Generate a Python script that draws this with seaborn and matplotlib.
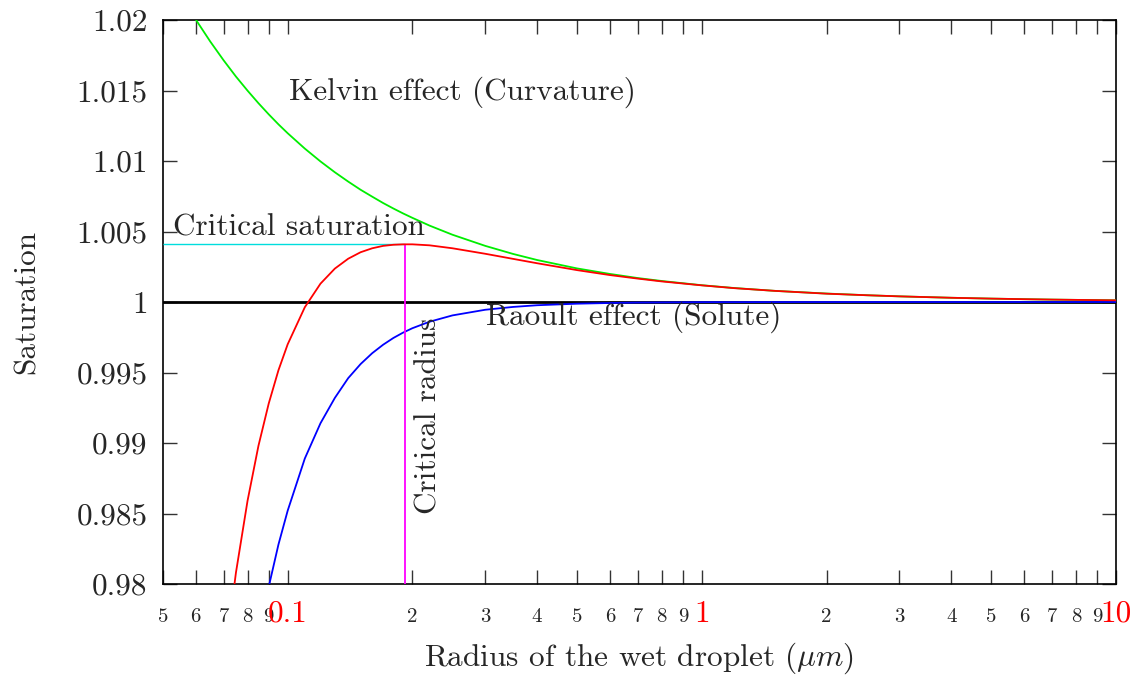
import numpy as np
import pandas as pd
import matplotlib
matplotlib.use("Agg")
import matplotlib.pyplot as plt
import seaborn as sns
from matplotlib.ticker import FixedLocator, NullLocator

# ---- data ----
radius = [0.05, 0.055, 0.06, 0.065, 0.07, 0.075, 0.08, 0.085, 0.09, 0.095,
          0.1, 0.11, 0.12, 0.13, 0.14, 0.15, 0.16, 0.17, 0.18, 0.19,
          0.2, 0.22, 0.25, 0.3, 0.35, 0.4, 0.5, 0.6, 0.7, 0.8,
          1.0, 1.2, 1.5, 2.0, 2.5, 3.0, 4.0, 5.0, 6.0, 7.0, 8.0, 10.0]

kelvin = [1.02409, 1.02187, 1.02003, 1.01848, 1.01715, 1.01599, 1.01499, 1.01410, 1.01331, 1.01260,
          1.01197, 1.01088, 1.00997, 1.00920, 1.00854, 1.00796, 1.00747, 1.00702, 1.00663, 1.00628,
          1.00597, 1.00542, 1.00477, 1.00398, 1.00341, 1.00298, 1.00238, 1.00199, 1.00170, 1.00149,
          1.00119, 1.00099, 1.00079, 1.00060, 1.00048, 1.00040, 1.00030, 1.00024, 1.00020, 1.00017,
          1.00015, 1.00012]

koehler = [0.909, 0.934, 0.952, 0.9646, 0.9739, 0.9808, 0.9859, 0.9898, 0.9928, 0.99516,
           0.9970, 0.99963, 1.0013, 1.00237, 1.00307, 1.00353, 1.00381, 1.00398, 1.00406, 1.00409,
           1.00409, 1.00402, 1.00381, 1.00342, 1.00306, 1.00275, 1.00226, 1.00191, 1.00166, 1.00146,
           1.00118, 1.00098, 1.00079, 1.00059, 1.00048, 1.0004, 1.0003, 1.00024, 1.0002, 1.00017,
           1.00015, 1.00012]

raoult = [0.888, 0.914, 0.933, 0.947, 0.9575, 0.9653, 0.9713, 0.9760, 0.9798, 0.9828,
          0.9852, 0.9889, 0.9914, 0.9932, 0.9946, 0.9956, 0.99637, 0.99697, 0.99745, 0.99783,
          0.99814, 0.9986, 0.99905, 0.99945, 0.99965, 0.99977, 0.99988, 0.99993, 0.99996, 0.99997,
          0.99999, 0.999991, 0.999996, 0.999998, 0.999999, 1.0, 1.0, 1.0, 1.0, 1.0,
          1.0, 1.0]

critical_radius = 0.192
critical_saturation = 1.00409
reference_saturation = 1.0

xtick_values = [0.05, 0.06, 0.07, 0.08, 0.09, 0.1,
                0.2, 0.3, 0.4, 0.5, 0.6, 0.7, 0.8, 0.9, 1.0,
                2, 3, 4, 5, 6, 7, 8, 9, 10]
xtick_labels = ["5", "6", "7", "8", "9", "0.1",
                "2", "3", "4", "5", "6", "7", "8", "9", "1",
                "2", "3", "4", "5", "6", "7", "8", "9", "10"]
xtick_major = ["0.1", "1", "10"]
ytick_values = [0.98, 0.985, 0.99, 0.995, 1.0, 1.005, 1.01, 1.015, 1.02]
ytick_labels = ["0.98", "0.985", "0.99", "0.995", "1", "1.005", "1.01", "1.015", "1.02"]

df = pd.DataFrame({"radius": radius, "kelvin": kelvin,
                   "koehler": koehler, "raoult": raoult})

# ---- style ----
sns.set_style("ticks")
plt.rcParams["font.family"] = ["cmr10", "DejaVu Serif"]
plt.rcParams["mathtext.fontset"] = "cm"
plt.rcParams["axes.formatter.use_mathtext"] = True
plt.rcParams["axes.unicode_minus"] = False

FS = 22.5

fig = plt.figure(figsize=(11.33, 6.75), dpi=100)
ax = fig.add_axes([163 / 1133, 1 - 584 / 675, (1116 - 163) / 1133, (584 - 20) / 675])

ax.axhline(reference_saturation, color="black", lw=2.0, zorder=2)
sns.lineplot(data=df, x="radius", y="kelvin", color="#00ee00", lw=1.3,
             estimator=None, sort=False, ax=ax, zorder=3)
sns.lineplot(data=df, x="radius", y="raoult", color="#0000ff", lw=1.3,
             estimator=None, sort=False, ax=ax, zorder=3)
sns.lineplot(data=df, x="radius", y="koehler", color="#ff0000", lw=1.3,
             estimator=None, sort=False, ax=ax, zorder=4)
ax.hlines(critical_saturation, xmin=0.05, xmax=critical_radius, color="#00dddd", lw=1.0, zorder=3)
ax.vlines(critical_radius, ymin=0.98, ymax=critical_saturation, color="#ff00ff", lw=1.3, zorder=3)

ax.set_xscale("log")
ax.set_xlim(0.05, 10)
ax.set_ylim(0.98, 1.02)

ax.xaxis.set_major_locator(FixedLocator(xtick_values))
ax.xaxis.set_minor_locator(NullLocator())
ax.set_xticks(xtick_values)
ax.set_xticklabels(xtick_labels)
ax.set_yticks(ytick_values)
ax.set_yticklabels(ytick_labels)

ax.tick_params(axis="both", which="both", direction="in", length=10, width=1.0,
               top=True, right=True, color="#333333")
ax.tick_params(axis="y", labelsize=FS, pad=11)
ax.tick_params(axis="x", pad=27)
for lab in ax.get_xticklabels():
    lab.set_verticalalignment("baseline")
    if lab.get_text() in xtick_major:
        lab.set_color("red")
        lab.set_fontsize(FS)
    else:
        lab.set_fontsize(15)

for s in ax.spines.values():
    s.set_linewidth(1.2)
    s.set_color("black")

ax.set_xlabel(r"Radius of the wet droplet ($\mu m$)", fontsize=FS, labelpad=9)
ax.set_ylabel("Saturation", fontsize=FS, labelpad=26)

ax.text(0.1008, 1.0149, "Kelvin effect (Curvature)", fontsize=FS, ha="left", va="center")
ax.text(0.0529, 1.0053, "Critical saturation", fontsize=FS, ha="left", va="center")
ax.text(0.3014, 0.9989, "Raoult effect (Solute)", fontsize=FS, ha="left", va="center")
ax.text(0.2183, 0.9919, "Critical radius", fontsize=FS, ha="center", va="center", rotation=90)

fig.savefig("out.png", dpi=100)
